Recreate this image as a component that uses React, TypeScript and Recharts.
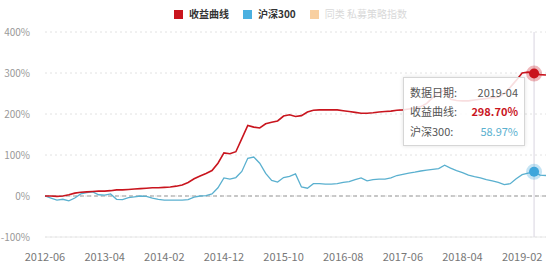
import React from 'react';
import { LineChart, Line, XAxis, YAxis, CartesianGrid, Tooltip, ReferenceLine } from 'recharts';

// monthly, 2012-06 .. 2019-06
const startYear = 2012;
const startMonth = 6;
const monthCount = 85;
const months: string[] = Array.from({ length: monthCount }, (_, i) => {
  const m = startMonth - 1 + i;
  const y = startYear + Math.floor(m / 12);
  return `${y}-${String((m % 12) + 1).padStart(2, '0')}`;
});

const strategy = [
  0, 0, -1, 0, 3, 7, 9, 10, 11, 12,
  12, 13, 15, 15, 16, 17, 18, 19, 20, 20,
  21, 22, 24, 27, 33, 42, 49, 55, 62, 80,
  105, 103, 108, 140, 172, 168, 166, 176, 180, 183,
  195, 198, 194, 196, 205, 209, 210, 210, 210, 210,
  208, 206, 204, 202, 202, 203, 205, 206, 207, 209,
  210, 212, 214, 218, 226, 240, 252, 258, 236, 233,
  232, 232, 234, 236, 238, 240, 241, 250, 265, 282,
  300, 302, 298.7, 296, 295,
];

const hs300 = [
  0, -5, -10, -8, -12, -5, 5, 8, 10, 3,
  2, 5, -8, -9, -4, -2, 0, -1, -5, -8,
  -10, -10, -10, -10, -9, -3, 0, 1, 5, 20,
  44, 41, 45, 60, 92, 95, 80, 55, 38, 34,
  45, 48, 54, 22, 19, 30, 30, 29, 29, 30,
  33, 35, 40, 44, 37, 40, 41, 41, 44, 50,
  53, 56, 58, 61, 63, 65, 67, 75, 68, 62,
  57, 51, 47, 44, 40, 37, 33, 28, 30, 42,
  52, 56, 58.97, 51, 50,
];

const yTicks = [-100, 0, 100, 200, 300, 400];
const activeIndex = 82;

const RED = '#c9151e';
const BLUE = '#5ab0cf';
const FONT = "'Microsoft YaHei', 'Noto Sans CJK SC', sans-serif";

const data = months.map((m, i) => ({ month: m, strategy: strategy[i], hs300: hs300[i] }));

function TipBox({ active, payload, label }: any) {
  if (!active || !payload || !payload.length) return null;
  const s = payload.find((p: any) => p.dataKey === 'strategy');
  const h = payload.find((p: any) => p.dataKey === 'hs300');
  const row = { display: 'flex', justifyContent: 'space-between', height: 19.5, alignItems: 'center' };
  return (
    <div
      style={{
        width: 108,
        padding: '4px 6px',
        background: 'rgba(255,255,255,0.86)',
        border: '1px solid #d6d6d6',
        boxShadow: '0 0 4px rgba(0,0,0,0.12)',
        fontFamily: FONT,
        fontSize: 11,
        color: '#555',
      }}
    >
      <div style={row}>
        <span>数据日期:</span>
        <span>{label}</span>
      </div>
      <div style={row}>
        <span>收益曲线:</span>
        <span style={{ color: RED, fontWeight: 700 }}>{s ? s.value.toFixed(2) : ''}%</span>
      </div>
      <div style={row}>
        <span>沪深300:</span>
        <span style={{ color: BLUE }}>{h ? h.value.toFixed(2) : ''}%</span>
      </div>
    </div>
  );
}

function LegendBar() {
  const item = (color: string, text: string, faded = false) => (
    <div style={{ display: 'flex', alignItems: 'center', marginRight: 14, opacity: faded ? 0.45 : 1 }}>
      <span style={{ width: 9, height: 9, background: color, marginRight: 6, display: 'inline-block' }} />
      <span style={{ color: faded ? '#aaa' : '#333', fontWeight: faded ? 400 : 700 }}>{text}</span>
    </div>
  );
  return (
    <div
      style={{
        position: 'absolute',
        left: 174,
        top: 7,
        display: 'flex',
        fontFamily: FONT,
        fontSize: 10,
        lineHeight: '14px',
      }}
    >
      {item(RED, '收益曲线')}
      {item('#4bb0e0', '沪深300')}
      {item('#f0962e', '同类 私募策略指数', true)}
    </div>
  );
}

export default function App() {
  return (
    <div style={{ position: 'fixed', left: 0, top: 0, width: 554, height: 267, background: '#fff' }}>
      <LegendBar />
      <LineChart width={554} height={267} data={data} margin={{ top: 32, right: 8, bottom: 0, left: 0 }}>
        <CartesianGrid vertical={false} stroke="#e2e2e2" strokeDasharray="2 3" />
        <XAxis
          dataKey="month"
          interval={9}
          tickLine={false}
          axisLine={{ stroke: '#e8e8e8' }}
          tickMargin={10}
          height={30}
          tick={{ fill: '#777', fontSize: 11, fontFamily: FONT }}
        />
        <YAxis
          width={45}
          domain={[-100, 400]}
          ticks={yTicks}
          tickLine={false}
          axisLine={false}
          tickMargin={9}
          tickFormatter={(v) => `${v}%`}
          tick={{ fill: '#999', fontSize: 10, fontFamily: FONT }}
        />
        <ReferenceLine y={0} stroke="#999" strokeDasharray="4 3" />
        <Tooltip
          active
          defaultIndex={activeIndex}
          position={{ x: 403, y: 77 }}
          cursor={{ stroke: '#d8d4e0', strokeWidth: 1 }}
          content={<TipBox />}
          isAnimationActive={false}
        />
        <Line
          type="linear"
          dataKey="hs300"
          stroke={BLUE}
          strokeWidth={1.3}
          dot={false}
          activeDot={{ r: 5, fill: '#3fa6dc', stroke: 'rgba(63,166,220,0.3)', strokeWidth: 6 }}
          isAnimationActive={false}
        />
        <Line
          type="linear"
          dataKey="strategy"
          stroke={RED}
          strokeWidth={1.6}
          dot={false}
          activeDot={{ r: 5, fill: RED, stroke: 'rgba(201,21,30,0.3)', strokeWidth: 6 }}
          isAnimationActive={false}
        />
      </LineChart>
    </div>
  );
}
